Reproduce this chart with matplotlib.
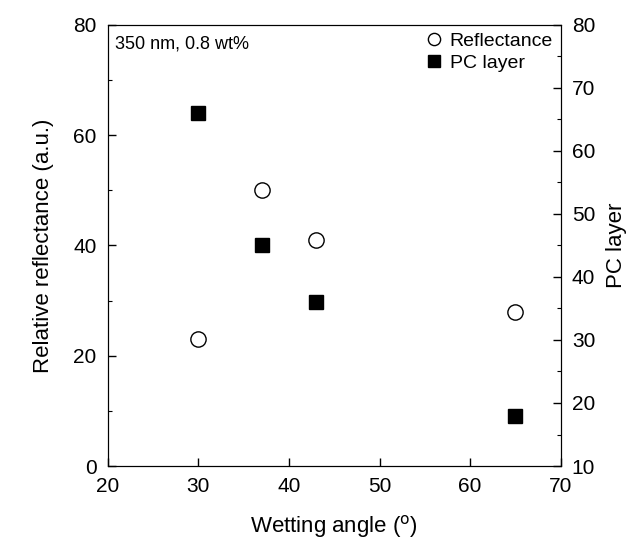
import matplotlib
matplotlib.use('Agg')
import matplotlib.pyplot as plt
from matplotlib.ticker import MultipleLocator

plt.rcParams['font.family'] = ['Liberation Sans', 'DejaVu Sans']
plt.rcParams['font.size'] = 14

# 데이터
angle = [30, 37, 43, 65]
reflectance = [23, 50, 41, 28]
pc_layer = [66, 45, 36, 18]

fig = plt.figure(figsize=(6.3, 5.4), dpi=100)
ax = fig.add_axes([0.171, 0.137, 0.719, 0.817])
ax2 = ax.twinx()

ax.plot(angle, reflectance, 'o', mfc='white', mec='black', mew=1.0, ms=11,
        linestyle='none', label='Reflectance')
ax2.plot(angle, pc_layer, 's', mfc='black', mec='black', ms=10,
         linestyle='none', label='PC layer')

ax.set_xlim(20, 70)
ax.set_ylim(0, 80)
ax2.set_ylim(10, 80)
ax.xaxis.set_major_locator(MultipleLocator(10))
ax.yaxis.set_major_locator(MultipleLocator(20))
ax.yaxis.set_minor_locator(MultipleLocator(10))
ax2.yaxis.set_major_locator(MultipleLocator(10))
ax2.yaxis.set_minor_locator(MultipleLocator(5))

for a in (ax, ax2):
    a.tick_params(which='both', direction='in', labelsize=15)
    a.tick_params(which='major', length=6, width=1)
    a.tick_params(which='minor', length=3, width=0.8)
ax.tick_params(axis='x', pad=8)
ax.tick_params(axis='y', pad=8)
ax2.tick_params(axis='y', pad=8)

ax.set_xlabel('Wetting angle ($^{\\mathrm{o}}$)', fontsize=16, labelpad=12)
ax.set_ylabel('Relative reflectance (a.u.)', fontsize=16, labelpad=14)
ax2.set_ylabel('PC layer', fontsize=16, labelpad=8)

ax.text(0.015, 0.975, '350 nm, 0.8 wt%', transform=ax.transAxes,
        ha='left', va='top', fontsize=13)

h1, l1 = ax.get_legend_handles_labels()
h2, l2 = ax2.get_legend_handles_labels()
ax.legend(h1 + h2, l1 + l2, loc='upper right', frameon=False, fontsize=14,
          handletextpad=0.2, borderaxespad=0.0, labelspacing=0.2,
          handlelength=1.2, markerscale=0.8)

plt.savefig('out.png', dpi=100)
